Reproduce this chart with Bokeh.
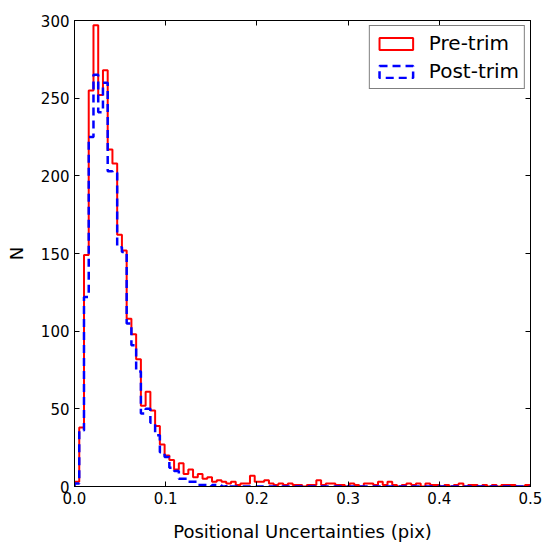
import numpy as np
from bokeh.plotting import figure
from bokeh.models import Range1d, LinearAxis, FixedTicker, Legend, LegendItem
from bokeh.embed import file_html
from bokeh.resources import INLINE

# histogram binning (bins of width 0.0052 starting at 0)
bin_start = 0.0
bin_width = 0.0052

pre_trim = [3, 38, 149, 255, 297, 252, 268, 217, 208, 162,
            152, 108, 98, 82, 52, 61, 49, 39, 27, 20,
            17, 11, 15, 8, 11, 6, 8, 5, 6, 3,
            4, 3, 2, 3, 1, 2, 2, 7, 3, 3,
            4, 2, 1, 2, 1, 2, 1, 1, 0, 1,
            1, 4, 1, 2, 2, 1, 1, 0, 2, 1,
            0, 2, 2, 1, 3, 1, 3, 1, 0, 1,
            2, 1, 2, 0, 2, 1, 1, 0, 1, 0,
            1, 2, 0, 1, 1, 0, 1, 0, 1, 0,
            1, 1, 1, 0, 0, 1]

post_trim = [2, 36, 122, 225, 265, 241, 260, 203, 202, 154,
             151, 105, 91, 74, 47, 50, 41, 33, 22, 19,
             12, 10, 5, 5, 3, 3, 1, 1, 0, 1,
             1, 0, 1, 0, 0, 0, 0, 0, 0, 0,
             0, 0, 0, 0, 0, 0, 0, 0, 0, 0,
             0, 0, 0, 0, 0, 0, 0, 0, 0, 0,
             0, 0, 0, 0, 0, 0, 0, 0, 0, 0,
             0, 0, 0, 0, 0, 0, 0, 0, 0, 0,
             0, 0, 0, 0, 0, 0, 0, 0, 0, 0,
             0, 0, 0, 0, 0, 0]

x_ticks = [0.0, 0.1, 0.2, 0.3, 0.4, 0.5]
x_tick_labels = ["0.0", "0.1", "0.2", "0.3", "0.4", "0.5"]
y_ticks = [0, 50, 100, 150, 200, 250, 300]
x_label = "Positional Uncertainties (pix)"
y_label = "N"
labels = ["Pre-trim", "Post-trim"]

FONT = "DejaVu Sans"


def step_outline(counts):
    c = np.asarray(counts, dtype=float)
    edges = bin_start + bin_width * np.arange(len(c) + 1)
    xs = np.concatenate([[edges[0]], np.repeat(edges, 2)[1:-1], [edges[-1]]])
    ys = np.concatenate([[0.0], np.repeat(c, 2), [0.0]])
    return xs, ys


p = figure(width=545, height=544, output_backend="svg", toolbar_location=None,
           x_range=Range1d(0, 0.5), y_range=Range1d(0, 300),
           min_border_left=74, min_border_right=15, min_border_top=20,
           min_border_bottom=58)
p.xgrid.visible = False
p.ygrid.visible = False
p.outline_line_color = "black"
p.outline_line_width = 1
p.background_fill_color = "white"
p.border_fill_color = "white"

xs1, ys1 = step_outline(pre_trim)
xs2, ys2 = step_outline(post_trim)
p.line(xs1, ys1, line_color="red", line_width=2)
p.line(xs2, ys2, line_color="blue", line_width=2.5, line_dash="8 5")

# legend patches (zero-size rectangles at the histogram origin)
r1 = p.quad(left=[bin_start], right=[bin_start], top=[0], bottom=[0],
            fill_alpha=0, line_color="red", line_width=2)
r2 = p.quad(left=[bin_start], right=[bin_start], top=[0], bottom=[0],
            fill_alpha=0, line_color="blue", line_width=2.5, line_dash="8 5")

for ax in (p.xaxis[0], p.yaxis[0]):
    ax.major_tick_in = 5
    ax.major_tick_out = 0
    ax.minor_tick_in = 0
    ax.minor_tick_out = 0
    ax.axis_line_color = "black"
    ax.major_label_text_font = FONT
    ax.major_label_text_font_size = "15px"
    ax.major_label_text_color = "black"
    ax.axis_label_text_font = FONT
    ax.axis_label_text_font_size = "18px"
    ax.axis_label_text_font_style = "normal"
    ax.axis_label_text_color = "black"

p.xaxis[0].ticker = FixedTicker(ticks=x_ticks)
p.xaxis[0].major_label_overrides = {t: l for t, l in zip(x_ticks, x_tick_labels)}
p.xaxis[0].axis_label = x_label
p.xaxis[0].major_label_standoff = 5
p.xaxis[0].axis_label_standoff = 14
p.yaxis[0].ticker = FixedTicker(ticks=y_ticks)
p.yaxis[0].axis_label = y_label
p.yaxis[0].major_label_standoff = 5
p.yaxis[0].axis_label_standoff = 11

top_ax = LinearAxis(ticker=FixedTicker(ticks=x_ticks), major_tick_in=5,
                    major_tick_out=0, minor_tick_in=0, minor_tick_out=0,
                    major_label_overrides={t: "" for t in x_ticks},
                    axis_line_color="black")
right_ax = LinearAxis(ticker=FixedTicker(ticks=y_ticks), major_tick_in=5,
                      major_tick_out=0, minor_tick_in=0, minor_tick_out=0,
                      major_label_overrides={t: "" for t in y_ticks},
                      axis_line_color="black")
p.add_layout(top_ax, "above")
p.add_layout(right_ax, "right")

legend = Legend(items=[LegendItem(label=labels[0], renderers=[r1]),
                       LegendItem(label=labels[1], renderers=[r2])],
                location="top_right")
legend.label_text_font = FONT
legend.label_text_font_size = "20px"
legend.label_text_color = "black"
legend.border_line_color = "black"
legend.border_line_width = 1
legend.background_fill_alpha = 1
legend.glyph_width = 42
legend.glyph_height = 15
legend.spacing = 4
legend.padding = 5
legend.margin = 5
legend.label_standoff = 12
p.add_layout(legend, "center")

open("out.html", "w").write(file_html(p, INLINE))
